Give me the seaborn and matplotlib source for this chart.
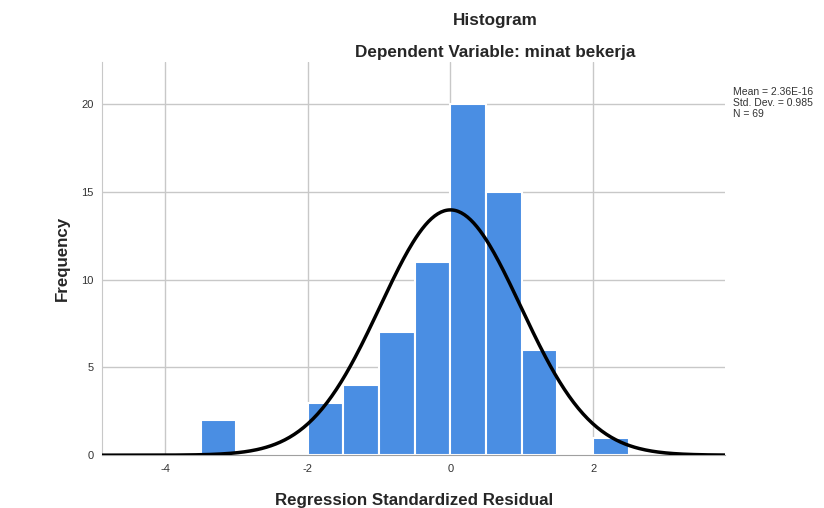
import numpy as np
import pandas as pd
import matplotlib.pyplot as plt
import seaborn as sns

# residual histogram (SPSS style), bins of width 0.5
bin_edges = [-3.5, -3.0, -2.5, -2.0, -1.5, -1.0, -0.5, 0.0, 0.5, 1.0, 1.5, 2.0, 2.5]
counts = [2, 0, 0, 3, 4, 7, 11, 20, 15, 6, 0, 1]
mean_res = 2.36e-16
std_res = 0.985
n_obs = 69
x_ticks = [-4, -2, 0, 2]
y_ticks = [0, 5, 10, 15, 20]

centers = [(a + b) / 2 for a, b in zip(bin_edges[:-1], bin_edges[1:])]
df = pd.DataFrame({'resid': centers, 'freq': counts})

sns.set_style('white')
plt.rcParams['font.family'] = ['Liberation Sans', 'DejaVu Sans']
plt.rcParams['axes.unicode_minus'] = False

fig = plt.figure(figsize=(8.24, 5.08), dpi=100)
ax = fig.add_axes([0.124, 0.104, 0.756, 0.774])

sns.histplot(data=df, x='resid', weights='freq', bins=bin_edges, ax=ax,
             color='#4a8ee3', edgecolor='white', linewidth=1.5, alpha=1, zorder=2)

# normal curve scaled to counts
xlo, xhi = -4.88, 3.85
xs = np.linspace(xlo, xhi, 400)
bw = bin_edges[1] - bin_edges[0]
ys = n_obs * bw * np.exp(-0.5 * ((xs - mean_res) / std_res) ** 2) / (std_res * np.sqrt(2 * np.pi))
sns.lineplot(x=xs, y=ys, ax=ax, color='black', linewidth=2.5, zorder=3)

ax.set_xlim(xlo, xhi)
ax.set_ylim(0, 22.4)
ax.set_xticks(x_ticks)
ax.set_yticks(y_ticks)
ax.grid(True, color='#c8c8c8', linewidth=1)
ax.set_axisbelow(True)
for s in ['top', 'right']:
    ax.spines[s].set_visible(False)
ax.spines['left'].set_color('#c8c8c8')
ax.spines['bottom'].set_color('#a0a0a0')
ax.tick_params(axis='both', labelsize=8, colors='#333333', length=0, pad=6)

ax.set_xlabel('Regression Standardized Residual', fontsize=12.2, fontweight='bold', labelpad=14)
ax.set_ylabel('Frequency', fontsize=12.2, fontweight='bold', labelpad=8)

fig.text(0.601, 0.96, 'Histogram', ha='center', va='center', fontsize=12.3, fontweight='bold')
fig.text(0.601, 0.897, 'Dependent Variable: minat bekerja', ha='center', va='center',
         fontsize=12.3, fontweight='bold')
fig.text(0.889, 0.819, f'Mean = {mean_res:.2E}', fontsize=7.5, va='center', color='#333333')
fig.text(0.889, 0.797, f'Std. Dev. = {std_res}', fontsize=7.5, va='center', color='#333333')
fig.text(0.889, 0.776, f'N = {n_obs}', fontsize=7.5, va='center', color='#333333')

plt.savefig('out.png', dpi=100)
